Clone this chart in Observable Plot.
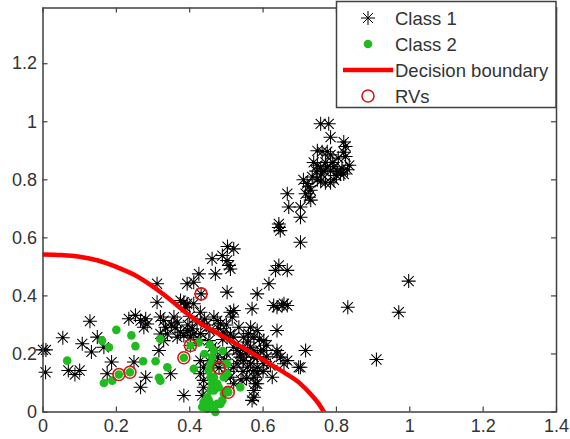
<!DOCTYPE html>
<html><head><meta charset="utf-8">
<script src="https://cdn.jsdelivr.net/npm/d3@7"></script>
<script src="https://cdn.jsdelivr.net/npm/@observablehq/plot@0.6"></script>
<style>
body{margin:0;background:#fff;}
#wrap{position:relative;width:570px;height:439px;font-family:"Liberation Sans",Arial,sans-serif;}
</style></head><body><div id="wrap"></div>
<script>
const class1X = [0.000,0.008,0.007,0.054,0.069,0.087,0.100,0.107,0.128,0.132,0.148,0.166,0.175,0.187,0.234,0.252,0.266,0.280,0.284,0.275,0.248,0.280,0.266,0.311,0.311,0.316,0.320,0.329,0.334,0.339,0.320,0.329,0.348,0.357,0.366,0.375,0.384,0.393,0.366,0.375,0.384,0.393,0.389,0.411,0.429,0.393,0.411,0.425,0.384,0.434,0.461,0.489,0.502,0.507,0.511,0.503,0.520,0.470,0.502,0.431,0.402,0.480,0.407,0.411,0.402,0.466,0.475,0.484,0.479,0.493,0.502,0.511,0.520,0.516,0.511,0.520,0.534,0.566,0.547,0.557,0.566,0.575,0.584,0.575,0.566,0.557,0.575,0.584,0.575,0.579,0.575,0.570,0.575,0.520,0.529,0.538,0.538,0.547,0.529,0.520,0.452,0.461,0.470,0.475,0.452,0.466,0.429,0.438,0.429,0.438,0.438,0.511,0.520,0.584,0.616,0.634,0.643,0.666,0.629,0.638,0.652,0.657,0.666,0.570,0.638,0.638,0.638,0.648,0.666,0.657,0.697,0.702,0.716,0.625,0.593,0.584,0.602,0.602,0.584,0.602,0.575,0.584,0.584,0.445,0.455,0.430,0.440,0.395,0.420,0.400,0.350,0.360,0.425,0.490,0.500,0.545,0.555,0.560,0.590,0.610,0.610,0.620,0.600,0.545,0.500,0.495,0.505,0.555,0.540,0.643,0.643,0.647,0.666,0.670,0.702,0.702,0.702,0.757,0.779,0.784,0.820,0.825,0.748,0.761,0.775,0.784,0.820,0.825,0.738,0.748,0.757,0.766,0.775,0.784,0.793,0.802,0.811,0.820,0.734,0.748,0.757,0.770,0.784,0.793,0.710,0.720,0.725,0.730,0.716,0.725,0.730,0.790,0.805,0.800,0.815,0.760,0.770,0.745,0.830,0.835,0.997,0.831,0.970,0.909];
const class1Y = [0.214,0.214,0.137,0.256,0.143,0.129,0.143,0.235,0.313,0.207,0.258,0.223,0.132,0.172,0.321,0.333,0.315,0.321,0.303,0.292,0.172,0.120,0.085,0.442,0.378,0.212,0.327,0.315,0.292,0.269,0.269,0.246,0.132,0.327,0.309,0.275,0.264,0.281,0.258,0.384,0.378,0.373,0.361,0.373,0.344,0.442,0.447,0.476,0.057,0.057,0.528,0.539,0.522,0.505,0.493,0.570,0.562,0.476,0.413,0.407,0.229,0.152,0.287,0.269,0.258,0.327,0.315,0.304,0.287,0.275,0.258,0.269,0.258,0.327,0.344,0.350,0.292,0.292,0.258,0.241,0.223,0.212,0.200,0.189,0.166,0.154,0.143,0.154,0.120,0.097,0.074,0.040,0.051,0.223,0.212,0.200,0.189,0.177,0.166,0.154,0.246,0.223,0.212,0.189,0.177,0.166,0.177,0.154,0.132,0.109,0.085,0.120,0.097,0.407,0.442,0.488,0.505,0.488,0.367,0.361,0.367,0.373,0.367,0.356,0.281,0.212,0.200,0.189,0.177,0.166,0.154,0.154,0.212,0.120,0.212,0.189,0.166,0.212,0.281,0.246,0.258,0.132,0.097,0.300,0.280,0.270,0.320,0.300,0.310,0.330,0.300,0.290,0.250,0.250,0.300,0.220,0.200,0.270,0.250,0.230,0.190,0.160,0.140,0.140,0.200,0.180,0.140,0.115,0.110,0.648,0.636,0.625,0.752,0.706,0.706,0.671,0.585,0.993,0.993,0.947,0.930,0.915,0.900,0.897,0.897,0.886,0.895,0.880,0.860,0.850,0.840,0.830,0.845,0.830,0.845,0.830,0.820,0.820,0.810,0.800,0.795,0.790,0.790,0.800,0.800,0.787,0.776,0.764,0.752,0.740,0.730,0.860,0.875,0.815,0.840,0.820,0.860,0.830,0.835,0.850,0.451,0.361,0.344,0.181];
const class2X = [0.066,0.161,0.180,0.200,0.241,0.252,0.273,0.307,0.320,0.316,0.320,0.339,0.166,0.189,0.207,0.237,0.384,0.402,0.411,0.425,0.466,0.461,0.457,0.452,0.457,0.461,0.466,0.448,0.438,0.457,0.475,0.470,0.489,0.493,0.479,0.493,0.502,0.538,0.434,0.448,0.457,0.466,0.475,0.457,0.452,0.466,0.484,0.502,0.498,0.502,0.505,0.490,0.440,0.455];
const class2Y = [0.177,0.246,0.223,0.283,0.264,0.227,0.175,0.175,0.252,0.118,0.108,0.154,0.100,0.108,0.129,0.137,0.187,0.229,0.149,0.240,0.212,0.189,0.166,0.143,0.120,0.097,0.074,0.051,0.034,0.028,0.028,0.000,0.040,0.063,0.085,0.120,0.166,0.085,0.017,0.011,0.154,0.120,0.097,0.074,0.040,0.017,0.028,0.074,0.166,0.132,0.068,0.210,0.200,0.232];
const rvX = [0.207,0.237,0.384,0.402,0.431,0.480,0.505];
const rvY = [0.129,0.137,0.187,0.229,0.407,0.152,0.068];
const boundaryX = [0,0.05,0.1,0.15,0.2,0.25,0.293,0.348,0.384,0.429,0.475,0.52,0.566,0.611,0.656,0.702,0.729,0.752,0.766];
const boundaryY = [0.543,0.541,0.535,0.522,0.5,0.472,0.438,0.386,0.348,0.306,0.272,0.24,0.206,0.172,0.137,0.097,0.063,0.028,0];
const xTicks = [0,0.2,0.4,0.6,0.8,1,1.2,1.4];
const yTicks = [0,0.2,0.4,0.6,0.8,1,1.2];
const legendLabels = ["Class 1","Class 2","Decision boundary","RVs"];

const zip = (X, Y) => X.map((x, i) => ({x, y: Y[i]}));
const c1 = zip(class1X, class1Y), c2 = zip(class2X, class2Y), rv = zip(rvX, rvY), bd = zip(boundaryX, boundaryY);

const asterisk = {draw(ctx, size) {
  const r = Math.sqrt(size / Math.PI), d = r * 0.72;
  ctx.moveTo(-r, 0); ctx.lineTo(r, 0);
  ctx.moveTo(0, -r); ctx.lineTo(0, r);
  ctx.moveTo(-d, -d); ctx.lineTo(d, d);
  ctx.moveTo(-d, d); ctx.lineTo(d, -d);
}};
const GREEN = "#1fbb1f", RED = "#ff0000", RVRED = "#d81818", AX = "#404040", TXT = "#333";
const fmt = d => String(d);
const W = 570, H = 439, ML = 42.5, MR = 14, MT = 7.5, MB = 27.5, TICK = 5;
const innerW = W - ML - MR, innerH = H - MT - MB;

const chart = Plot.plot({
  width: W, height: H,
  marginLeft: ML, marginRight: MR, marginTop: MT, marginBottom: MB,
  x: {domain: [0, 1.4]},
  y: {domain: [0, 1.392]},
  style: {fontFamily: "'Liberation Sans', Arial, sans-serif", fontSize: "18px", background: "#fff", color: TXT},
  marks: [
    Plot.dot(c1, {x: "x", y: "y", symbol: asterisk, r: 7, stroke: "#000", fill: "none", strokeWidth: 1.05}),
    Plot.dot(c1, {x: "x", y: "y", r: 1.4, fill: "#000", stroke: "none"}),
    Plot.dot(c2, {x: "x", y: "y", r: 4.3, fill: GREEN, stroke: "none"}),
    Plot.line(bd, {x: "x", y: "y", stroke: RED, strokeWidth: 4.5, curve: "monotone-x", clip: true}),
    Plot.dot(rv, {x: "x", y: "y", r: 6, stroke: RVRED, strokeWidth: 1.6, fill: "none"}),
    // inward ticks on all four sides
    Plot.tickX(xTicks, {x: d => d, insetTop: innerH - TICK, stroke: AX, strokeWidth: 1.2}),
    Plot.tickX(xTicks, {x: d => d, insetBottom: innerH - TICK, stroke: AX, strokeWidth: 1.2}),
    Plot.tickY(yTicks, {y: d => d, insetRight: innerW - TICK, stroke: AX, strokeWidth: 1.2}),
    Plot.tickY(yTicks, {y: d => d, insetLeft: innerW - TICK, stroke: AX, strokeWidth: 1.2}),
    Plot.frame({stroke: AX, strokeWidth: 1.5}),
    Plot.axisX({anchor: "bottom", ticks: xTicks, tickSize: 0, tickPadding: 7, tickFormat: fmt, label: null, fill: TXT}),
    Plot.axisY({anchor: "left", ticks: yTicks, tickSize: 0, tickPadding: 6, tickFormat: fmt, label: null, fill: TXT})
  ]
});
const wrap = document.getElementById("wrap");
wrap.appendChild(chart);
chart.style.position = "absolute"; chart.style.left = "0"; chart.style.top = "0";

// legend overlay
const lg = d3.select(wrap).append("svg").attr("width", W).attr("height", H)
  .style("position", "absolute").style("left", 0).style("top", 0)
  .style("font-family", "'Liberation Sans', Arial, sans-serif");
lg.append("rect").attr("x", 336.5).attr("y", 1.5).attr("width", 219.5).attr("height", 106)
  .attr("fill", "#fff").attr("stroke", AX).attr("stroke-width", 1.5);
const rowY = i => 18 + i * 26;
lg.append("path").attr("transform", `translate(368,${rowY(0)})`)
  .attr("d", d3.symbol(asterisk, Math.PI * 49)()).attr("stroke", "#000").attr("fill", "none");
lg.append("circle").attr("cx", 368).attr("cy", rowY(1)).attr("r", 4.3).attr("fill", GREEN);
lg.append("line").attr("x1", 343).attr("x2", 393).attr("y1", rowY(2)).attr("y2", rowY(2))
  .attr("stroke", RED).attr("stroke-width", 4.5);
lg.append("circle").attr("cx", 368).attr("cy", rowY(3)).attr("r", 6).attr("fill", "none")
  .attr("stroke", RVRED).attr("stroke-width", 1.6);
legendLabels.forEach((t, i) => {
  lg.append("text").attr("x", 395).attr("y", rowY(i) + 6.5).attr("font-size", 18.5).attr("fill", TXT).text(t);
});
</script></body></html>
